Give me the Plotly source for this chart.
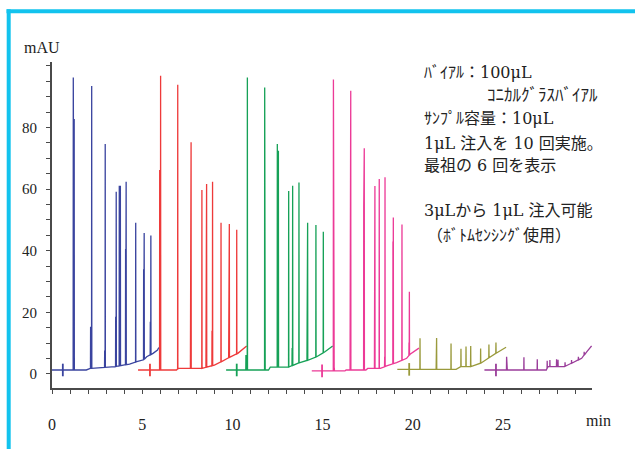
import numpy as np
import plotly.graph_objects as go

# ---------------- data (times in min, signal in mAU) ----------------
inj_times = [0.60, 5.43, 10.24, 14.97, 19.80, 24.61]
run_colors = ["#3A449F", "#EE3A3A", "#16A157", "#EC3A97", "#9A9A3C", "#9A3D9A"]

# run 1 (blue)
r1_peak_t = [1.18, 1.23, 2.14, 2.20, 2.92, 2.95, 3.53, 3.56, 3.73, 3.79, 4.08, 4.11, 4.64, 5.08, 5.11, 5.45, 5.48]
r1_peak_h = [96.3, 82.8, 15.3, 93.5, 7.6, 74.7, 18.6, 59.2, 61.1, 61.1, 40.6, 62.4, 49.1, 34.0, 45.8, 17.0, 45.0]
r1_base_t = [0.00, 1.90, 2.10, 3.50, 3.95, 4.30, 4.70, 5.06, 5.25, 5.60, 5.85, 5.92]
r1_base_v = [1.3, 1.3, 1.8, 2.4, 2.9, 3.2, 4.0, 4.5, 5.6, 6.7, 7.8, 8.6]

# run 2 (red)
r2_peak_t = [5.97, 6.02, 6.97, 7.00, 7.68, 7.71, 8.31, 8.54, 8.57, 8.87, 8.90, 9.37, 9.80, 9.83, 10.24]
r2_peak_h = [66.2, 96.8, 93.9, 3.2, 22.4, 75.2, 59.7, 23.5, 61.7, 14.0, 62.4, 49.1, 12.7, 48.7, 46.8]
r2_base_t = [4.77, 6.90, 7.00, 8.30, 9.00, 9.40, 9.90, 10.30, 10.60, 10.79]
r2_base_v = [1.3, 1.3, 1.8, 1.8, 2.9, 4.0, 5.6, 6.7, 8.3, 9.1]

# run 3 (green)
r3_peak_t = [10.75, 10.83, 11.79, 11.81, 12.49, 12.55, 13.12, 13.31, 13.34, 13.69, 14.14, 14.17, 14.63, 15.04]
r3_peak_h = [6.2, 96.3, 93.0, 6.2, 74.7, 72.5, 59.4, 8.4, 61.1, 62.2, 16.5, 49.1, 48.4, 46.2]
r3_base_t = [9.65, 12.00, 12.10, 13.10, 13.65, 14.20, 14.67, 15.13, 15.50, 15.56]
r3_base_v = [1.3, 1.3, 2.2, 2.2, 3.5, 4.5, 5.6, 7.2, 8.9, 9.1]

# run 4 (pink)
r4_peak_t = [15.60, 15.65, 16.53, 16.56, 17.28, 17.31, 17.88, 17.90, 18.14, 18.44, 18.46, 18.90, 18.92, 19.40, 19.79, 19.81]
r4_peak_h = [95.6, 2.0, 20.0, 92.0, 54.3, 73.3, 11.7, 61.0, 63.3, 5.6, 63.9, 43.0, 50.8, 48.5, 10.2, 26.7]
r4_base_t = [14.40, 16.24, 16.30, 17.40, 17.50, 18.20, 18.55, 19.10, 19.66, 19.85, 20.34]
r4_base_v = [1.0, 1.0, 1.3, 1.3, 1.8, 1.8, 2.6, 3.7, 5.1, 6.4, 8.4]

# run 5 (olive)
r5_peak_t = [20.40, 21.30, 21.32, 22.12, 22.67, 22.95, 23.21, 23.76, 24.22, 24.61]
r5_peak_h = [11.6, 10.0, 11.7, 9.9, 8.2, 8.9, 9.1, 8.3, 9.6, 10.2]
r5_base_t = [19.14, 22.40, 22.60, 23.20, 23.76, 24.10, 24.60, 25.17]
r5_base_v = [1.5, 1.5, 2.4, 2.4, 3.5, 4.8, 6.7, 8.7]

# run 6 (purple)
r6_peak_t = [25.20, 25.23, 26.16, 26.90, 27.45, 27.60, 27.97, 28.05, 28.44, 28.80, 29.18, 29.50]
r6_peak_h = [5.6, 4.0, 5.4, 4.8, 4.3, 4.5, 4.8, 4.6, 3.8, 4.5, 5.6, 7.2]
r6_base_t = [23.97, 27.40, 27.50, 28.40, 28.80, 29.36, 29.64, 29.91]
r6_base_v = [1.3, 1.3, 2.4, 2.4, 3.5, 5.1, 7.2, 9.1]

# tick positions and labels
x_tickvals = list(range(0, 30))
x_ticktext = ["0", "", "", "", "", "5", "", "", "", "", "10", "", "", "", "", "15", "", "", "", "",
              "20", "", "", "", "", "25", "", "", "", ""]
y_tickvals = list(range(0, 101, 5))
y_ticktext = ["0", "", "", "", "20", "", "", "", "40", "", "", "", "60", "", "", "", "80", "", "", "", ""]

text_lines = [
    "ﾊﾞｲｱﾙ：100μL",
    "ｺﾆｶﾙｸﾞﾗｽﾊﾞｲｱﾙ",
    "ｻﾝﾌﾟﾙ容量：10μL",
    "1μL 注入を 10 回実施。",
    "最祖の 6 回を表示",
    "3μLから 1μL 注入可能",
    "（ﾎﾞﾄﾑｾﾝｼﾝｸﾞ使用）",
]

runs = [
    (r1_peak_t, r1_peak_h, r1_base_t, r1_base_v),
    (r2_peak_t, r2_peak_h, r2_base_t, r2_base_v),
    (r3_peak_t, r3_peak_h, r3_base_t, r3_base_v),
    (r4_peak_t, r4_peak_h, r4_base_t, r4_base_v),
    (r5_peak_t, r5_peak_h, r5_base_t, r5_base_v),
    (r6_peak_t, r6_peak_h, r6_base_t, r6_base_v),
]

# ---------------- figure ----------------
W, H = 635, 449
L, R, T, B = 52, 43, 62, 61
PW, PH = W - L - R, H - T - B


def px(xp):
    return (xp - L) / PW


def py(yp):
    return (H - B - yp) / PH


SERIF = "Liberation Serif, Noto Sans CJK JP"
TEXTF = "DejaVu Serif, Noto Sans CJK JP"
fig = go.Figure()
eps = 0.008

for (pt, ph, bt, bv), col, ti in zip(runs, run_colors, inj_times):
    pts = list(zip(bt, bv))
    for t, h in zip(pt, ph):
        b = float(np.interp(t, bt, bv))
        pts += [(t - eps, b), (t, h), (t + eps, b)]
    pts.sort(key=lambda p: p[0])
    fig.add_trace(go.Scatter(
        x=[p[0] for p in pts], y=[p[1] for p in pts], mode="lines",
        line=dict(color=col, width=1.3), hoverinfo="skip", cliponaxis=False))
    fig.add_trace(go.Scatter(
        x=[ti], y=[float(np.interp(ti, bt, bv))], mode="markers",
        marker=dict(symbol="line-ns", size=9, line=dict(color=col, width=1.8)),
        hoverinfo="skip"))

axis_col = "#4A4A4A"
fig.update_xaxes(
    range=[0, PW / 18.04], showline=True, linecolor=axis_col, linewidth=2,
    showgrid=False, zeroline=False, tickmode="array",
    tickvals=x_tickvals, ticktext=x_ticktext,
    ticks="outside", ticklen=4, tickcolor=axis_col, tickwidth=1,
    ticklabelstandoff=17, automargin=False, layer="above traces",
    tickfont=dict(family=SERIF, size=16, color="#222"))
fig.update_yaxes(
    range=[-4.55, -4.55 + PH / 3.08], showline=True, linecolor=axis_col, linewidth=2,
    showgrid=False, zeroline=False, tickmode="array",
    tickvals=y_tickvals, ticktext=y_ticktext,
    ticks="outside", ticklen=4, tickcolor=axis_col, tickwidth=1,
    ticklabelstandoff=6, automargin=False, layer="above traces",
    tickfont=dict(family=SERIF, size=15, color="#222"))

ann = [
    dict(text="mAU", x=px(42), y=py(47), size=16, xanchor="center", f=SERIF),
    dict(text="min", x=px(598), y=py(420), size=16, xanchor="center", f=SERIF),
    dict(text=text_lines[0], x=px(422), y=py(72), size=16, xanchor="left", f=TEXTF),
    dict(text=text_lines[1], x=px(485), y=py(95), size=17, xanchor="left", f=TEXTF),
    dict(text=text_lines[2], x=px(422), y=py(118), size=16, xanchor="left", f=TEXTF),
    dict(text=text_lines[3], x=px(422), y=py(143), size=16, xanchor="left", f=TEXTF),
    dict(text=text_lines[4], x=px(422), y=py(165), size=16, xanchor="left", f=TEXTF),
    dict(text=text_lines[5], x=px(422), y=py(210), size=16, xanchor="left", f=TEXTF),
    dict(text=text_lines[6], x=px(425), y=py(235), size=16, xanchor="left", f=TEXTF),
]
for a in ann:
    fig.add_annotation(text=a["text"], x=a["x"], y=a["y"], xref="paper", yref="paper",
                       xanchor=a["xanchor"], yanchor="middle", showarrow=False,
                       font=dict(family=a["f"], size=a["size"], color="#222"))

cyan = "#12C3EE"
fig.add_shape(type="line", xref="paper", yref="paper", x0=px(6.5), x1=px(640),
              y0=py(11.3), y1=py(11.3), line=dict(color=cyan, width=4))
fig.add_shape(type="line", xref="paper", yref="paper", x0=px(8.7), x1=px(8.7),
              y0=py(9.3), y1=py(455), line=dict(color=cyan, width=4))

fig.update_layout(width=W, height=H, margin=dict(l=L, r=R, t=T, b=B, autoexpand=False),
                  paper_bgcolor="white", plot_bgcolor="white", showlegend=False)

fig.write_html("out.html", config={"displayModeBar": False},
               post_script="document.body.style.margin='0px';")
